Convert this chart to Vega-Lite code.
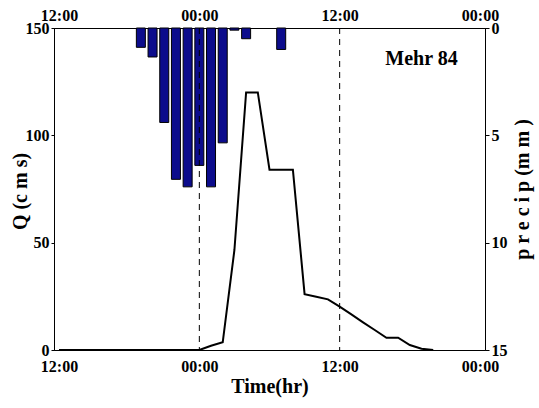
{
  "$schema": "https://vega.github.io/schema/vega-lite/v6.json",
  "width": 431,
  "height": 322,
  "autosize": {"type": "none"},
  "padding": {"left": 54, "top": 28, "right": 54, "bottom": 58},
  "config": {
    "view": {"stroke": "black", "strokeWidth": 1},
    "font": "Liberation Serif",
    "axis": {
      "labelFont": "Liberation Serif",
      "labelFontWeight": "bold",
      "labelFontSize": 16,
      "labelColor": "black",
      "titleFont": "Liberation Serif",
      "titleFontWeight": "bold",
      "titleFontSize": 20,
      "titleColor": "black",
      "domainColor": "black",
      "tickColor": "black",
      "grid": false
    }
  },
  "datasets": {
    "precip": [
      {"hour": 7, "precip": 0.9},
      {"hour": 8, "precip": 1.35},
      {"hour": 9, "precip": 4.4},
      {"hour": 10, "precip": 7.05},
      {"hour": 11, "precip": 7.4},
      {"hour": 12, "precip": 6.4},
      {"hour": 13, "precip": 7.4},
      {"hour": 14, "precip": 5.35},
      {"hour": 15, "precip": 0.1},
      {"hour": 16, "precip": 0.5},
      {"hour": 19, "precip": 1.0}
    ],
    "flow": [
      {"hour": 0, "Q": 0},
      {"hour": 12, "Q": 0},
      {"hour": 13, "Q": 2},
      {"hour": 14, "Q": 3.6},
      {"hour": 15, "Q": 46.6},
      {"hour": 16, "Q": 120},
      {"hour": 17, "Q": 120},
      {"hour": 18, "Q": 84},
      {"hour": 19, "Q": 84},
      {"hour": 20, "Q": 84},
      {"hour": 21, "Q": 26},
      {"hour": 22, "Q": 24.8},
      {"hour": 23, "Q": 23.6},
      {"hour": 24, "Q": 20.2},
      {"hour": 25, "Q": 16.6},
      {"hour": 26, "Q": 12.9},
      {"hour": 27, "Q": 9.3},
      {"hour": 28, "Q": 5.7},
      {"hour": 29, "Q": 5.7},
      {"hour": 30, "Q": 2.3},
      {"hour": 31, "Q": 0.6},
      {"hour": 32, "Q": 0}
    ],
    "marks": [
      {"hour": 12},
      {"hour": 24}
    ],
    "label": [
      {"hour": 31, "Q": 135.5, "text": "Mehr 84"}
    ]
  },
  "layer": [
    {
      "data": {"name": "precip"},
      "mark": {"type": "bar", "size": 9, "color": "#0c0c8c", "stroke": "black", "strokeWidth": 1},
      "encoding": {
        "x": {
          "field": "hour", "type": "quantitative",
          "scale": {"domain": [0, 36], "nice": false, "zero": false},
          "axis": {
            "orient": "top", "values": [0, 12, 24, 36],
            "labelExpr": "datum.value % 24 == 0 ? '12:00' : '00:00'",
            "ticks": false, "labelPadding": 5, "title": null, "labelFlush": false
          }
        },
        "y": {
          "field": "precip", "type": "quantitative",
          "scale": {"domain": [0, 15], "reverse": true, "nice": false},
          "axis": {
            "orient": "right", "values": [0, 5, 10, 15], "tickSize": 4,
            "labelPadding": 2,
            "title": "p r e c i p (m m )", "titleAngle": -90,
            "titleX": 37, "titleY": 161, "titleAlign": "center", "titleBaseline": "middle"
          }
        }
      }
    },
    {
      "layer": [
        {
          "data": {"name": "marks"},
          "mark": {"type": "rule", "color": "black", "strokeWidth": 1, "strokeDash": [6, 5]},
          "encoding": {
            "x": {"field": "hour", "type": "quantitative"}
          }
        },
        {
          "data": {"name": "flow"},
          "mark": {"type": "line", "color": "black", "strokeWidth": 2},
          "encoding": {
            "x": {
              "field": "hour", "type": "quantitative",
              "scale": {"domain": [0, 36], "nice": false, "zero": false},
              "axis": {
                "orient": "bottom", "values": [0, 12, 24, 36],
                "labelExpr": "datum.value % 24 == 0 ? '12:00' : '00:00'",
                "ticks": false, "labelPadding": 8, "labelFlush": false,
                "title": "Time(hr)", "titlePadding": 2
              }
            },
            "y": {
              "field": "Q", "type": "quantitative",
              "scale": {"domain": [0, 150], "nice": false},
              "axis": {
                "values": [0, 50, 100, 150], "tickSize": 3, "labelPadding": 2,
                "title": "Q (c m s)", "titleAngle": -90,
                "titleX": -34, "titleY": 163, "titleAlign": "center", "titleBaseline": "middle"
              }
            }
          }
        },
        {
          "data": {"name": "label"},
          "mark": {"type": "text", "font": "Liberation Serif", "fontWeight": "bold", "fontSize": 20, "color": "black"},
          "encoding": {
            "x": {"field": "hour", "type": "quantitative"},
            "y": {"field": "Q", "type": "quantitative"},
            "text": {"field": "text"}
          }
        }
      ]
    }
  ],
  "resolve": {"scale": {"y": "independent"}, "axis": {"x": "independent"}}
}
